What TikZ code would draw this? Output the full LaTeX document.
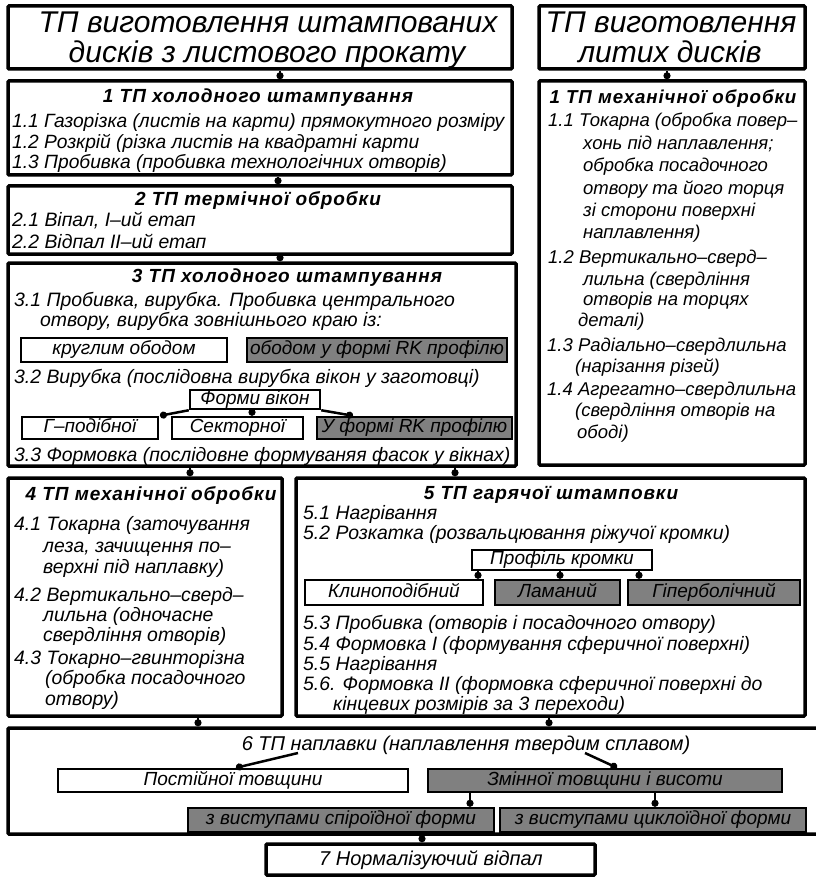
\documentclass[tikz,border=0pt]{standalone}
\usepackage{fontspec}
\setmainfont{Liberation Sans}
\newfontfamily\hdfont{Liberation Sans}[LetterSpace=5]
\usetikzlibrary{arrows.meta}
\definecolor{gfill}{RGB}{128,128,128}
\newcommand\tx{\fontsize{19.4}{21}\selectfont\itshape}
\newcommand\rtx{\fontsize{18.5}{21}\selectfont\itshape}
\newcommand\btx{\fontsize{19}{21}\selectfont\itshape}
\newcommand\hx{\hdfont\fontsize{19}{21}\selectfont\bfseries\itshape}
\newcommand\ttx{\fontsize{30}{30}\selectfont\itshape}
\newcommand\bigtx{\fontsize{20}{22}\selectfont\itshape}
\begin{document}
\begin{tikzpicture}[x=1pt,y=-1pt,
  box/.style={draw, line width=3.5pt, inner sep=0pt, rounded corners=1pt},
  ibox/.style={draw, line width=2.5pt, inner sep=0pt, font=\btx, text height=13.5pt, text depth=4pt},
  gbox/.style={ibox, fill=gfill},
  conn/.style={line width=2.5pt, -{Circle[length=7pt,width=7pt]}},
  tl/.style={anchor=base west, inner sep=0pt, font=\tx},
  rl/.style={tl, font=\rtx},
  hd/.style={anchor=base, inner sep=0pt, font=\hx},
  tt/.style={anchor=base, inner sep=0pt, font=\ttx},
]
\fill[white] (0,0) rectangle (815,877);
\useasboundingbox (0,0) rectangle (815,877);

% ---------- main boxes ----------
\node[box, minimum width=504pt, minimum height=63pt] (A) at (260,37.5) {};
\node[box, minimum width=266pt, minimum height=63pt] (B) at (672,37.5) {};
\node[box, minimum width=504pt, minimum height=94pt] (L1) at (260,128) {};
\node[box, minimum width=504pt, minimum height=68pt] (L2) at (260,220) {};
\node[box, minimum width=508pt, minimum height=203pt] (L3) at (262,364.5) {};
\node[box, minimum width=266pt, minimum height=384pt] (R1) at (672,273) {};
\node[box, minimum width=274pt, minimum height=238pt] (L4) at (145,597) {};
\node[box, minimum width=509pt, minimum height=238pt] (L5) at (550.5,597) {};
\node[box, minimum width=816pt, minimum height=106pt] (L6) at (416,781) {};
\node[box, minimum width=329pt, minimum height=31pt] (L7) at (430.5,859.5) {};

% ---------- titles ----------
\node[tt] (ta1) at (268,33) {ТП виготовлення штампованих};
\node[tt] (ta2) at (267,63) {дисків з листового прокату};
\node[tt] (tb1) at (671,33) {ТП виготовлення};
\node[tt] (tb2) at (670,63) {литих дисків};

% ---------- box 1 ----------
\node[hd] (h1) at (258,103) {1 ТП холодного штампування};
\node[tl, font=\fontsize{19.2}{21}\selectfont\itshape] (s11) at (12,128) {1.1 Газорізка (листів на карти) прямокутного розміру};
\node[tl, font=\fontsize{19.2}{21}\selectfont\itshape] (s12) at (12,149) {1.2 Розкрій (різка листів на квадратні карти};
\node[tl, font=\fontsize{19.2}{21}\selectfont\itshape] (s13) at (12,169) {1.3 Пробивка (пробивка технологічних отворів)};

% ---------- box 2 ----------
\node[hd] (h2) at (258,206) {2 ТП термічної обробки};
\node[tl] (s21) at (12,226) {2.1 Віпал, I–ий етап};
\node[tl] (s22) at (12,248) {2.2 Відпал II–ий етап};

% ---------- box 3 ----------
\node[hd] (h3) at (287,282) {3 ТП холодного штампування};
\node[tl] (s31) at (14,306) {3.1 Пробивка, вирубка. Пробивка центрального};
\node[tl] (s31b) at (40,326) {отвору, вирубка зовнішнього краю із:};
\node[ibox, minimum width=206pt, minimum height=24pt] (kr) at (124,350) {круглим ободом};
\node[gbox, minimum width=260pt, minimum height=24pt] (rk) at (377,350) {ободом у формі RK профілю};
\node[tl] (s32) at (14,383) {3.2 Вирубка (послідовна вирубка вікон у заготовці)};
\node[ibox, minimum width=130pt, minimum height=19pt] (fv) at (255,399.5) {Форми вікон};
\node[ibox, minimum width=136pt, minimum height=22pt] (gp) at (90,428) {Г–подібної};
\node[ibox, minimum width=131pt, minimum height=22pt] (sk) at (237.5,428) {Секторної};
\node[gbox, minimum width=195pt, minimum height=22pt] (uf) at (414.5,428) {У формі RK профілю};
\node[tl] (s33) at (14,461) {3.3 Формовка (послідовне формуваняя фасок у вікнах)};
\coordinate (x160) at (160,0);
\coordinate (x252) at (252,0);
\coordinate (x353) at (353,0);
\draw[conn] (fv.south west) -- (gp.north -| x160);
\draw[conn] (fv.south -| x252) -- (sk.north -| x252);
\draw[conn] (fv.south east) -- (uf.north -| x353);

% ---------- right box ----------
\node[hd, font=\hdfont\fontsize{18.7}{21}\selectfont\bfseries\itshape] (hr) at (673,104) {1 ТП механічної обробки};
\node[rl] (r1) at (548,127) {1.1 Токарна (обробка повер–};
\node[rl] (r2) at (583,150) {хонь під наплавлення;};
\node[rl] (r3) at (583,172) {обробка посадочного};
\node[rl] (r4) at (583,195) {отвору та його торця};
\node[rl] (r5) at (583,217) {зі сторони поверхні};
\node[rl] (r6) at (583,238) {наплавлення)};
\node[rl] (r7) at (548,263) {1.2 Вертикально–сверд–};
\node[rl] (r8) at (583,285) {лильна (свердління};
\node[rl] (r9) at (583,305) {отворів на торцях};
\node[rl] (r10) at (578,326) {деталі)};
\node[rl] (r11) at (547,351) {1.3 Радіально–свердлильна};
\node[rl] (r12) at (575,372) {(нарізання різей)};
\node[rl] (r13) at (547,395) {1.4 Агрегатно–свердлильна};
\node[rl] (r14) at (575,416) {(свердління отворів на};
\node[rl] (r15) at (577,438) {ободі)};

% ---------- box 4 ----------
\node[hd] (h4) at (151,500) {4 ТП механічної обробки};
\node[tl] (s41) at (14,530) {4.1 Токарна (заточування};
\node[tl] (s41b) at (43,552) {леза, зачищення по–};
\node[tl] (s41c) at (43,573) {верхні під наплавку)};
\node[tl] (s42) at (14,601) {4.2 Вертикально–сверд–};
\node[tl] (s42b) at (43,621) {лильна (одночасне};
\node[tl] (s42c) at (43,641) {свердління отворів)};
\node[tl] (s43) at (14,664) {4.3 Токарно–гвинторізна};
\node[tl] (s43b) at (45,684) {(обробка посадочного};
\node[tl] (s43c) at (45,705) {отвору)};

% ---------- box 5 ----------
\node[hd] (h5) at (551,499) {5 ТП гарячої штамповки};
\node[tl] (s51) at (303,519) {5.1 Нагрівання};
\node[tl] (s52) at (303,539) {5.2 Розкатка (розвальцювання ріжучої кромки)};
\node[ibox, minimum width=180pt, minimum height=20pt] (pk) at (562,560) {Профіль кромки};
\node[ibox, minimum width=178pt, minimum height=25pt] (kl) at (394,592.5) {Клиноподібний};
\node[gbox, minimum width=125pt, minimum height=25pt] (lm) at (557.5,592.5) {Ламаний};
\node[gbox, minimum width=172pt, minimum height=25pt] (gb) at (714,592.5) {Гіперболічний};
\coordinate (x478) at (478,0);
\coordinate (x560) at (560,0);
\coordinate (x639) at (639,0);
\draw[conn] (pk.south -| x478) -- (kl.north -| x478);
\draw[conn] (pk.south -| x560) -- (lm.north -| x560);
\draw[conn] (pk.south -| x639) -- (gb.north -| x639);
\node[tl] (s53) at (303,629) {5.3 Пробивка (отворів і посадочного отвору)};
\node[tl] (s54) at (303,650) {5.4 Формовка I (формування сферичної поверхні)};
\node[tl] (s55) at (303,670) {5.5 Нагрівання};
\node[tl] (s56) at (303,690) {5.6. Формовка II (формовка сферичної поверхні до};
\node[tl] (s56b) at (333,710) {кінцевих розмірів за 3 переходи)};

% ---------- box 6 ----------
\node[anchor=base, inner sep=0pt, font=\bigtx] (h6) at (466,750) {6 ТП наплавки (наплавлення твердим сплавом)};
\node[ibox, minimum width=350pt, minimum height=23pt] (pt) at (233,780.5) {Постійної товщини};
\node[gbox, minimum width=354pt, minimum height=23pt] (zm) at (605,780.5) {Змінної товщини і висоти};
\node[gbox, minimum width=306pt, minimum height=24pt] (sp) at (341,820) {з виступами спіроїдної форми};
\node[gbox, minimum width=306pt, minimum height=24pt] (cy) at (653,820) {з виступами циклоїдної форми};
\coordinate (c6l) at (298,753);
\coordinate (c6r) at (585,753);
\coordinate (x236) at (236,0);
\coordinate (x617) at (617,0);
\coordinate (x470) at (470,0);
\coordinate (x655) at (655,0);
\draw[conn] (c6l) -- (pt.north -| x236);
\draw[conn] (c6r) -- (zm.north -| x617);
\draw[conn] (zm.south -| x470) -- (sp.north -| x470);
\draw[conn] (zm.south -| x655) -- (cy.north -| x655);

% ---------- box 7 ----------
\node[anchor=center, inner sep=0pt, font=\bigtx] (t7) at (431,860) {7 Нормалізуючий відпал};

% ---------- connectors between main boxes ----------
\coordinate (x280) at (280,0);
\coordinate (x278) at (278,0);
\coordinate (x667) at (667,0);
\coordinate (x190) at (190,0);
\coordinate (x455) at (455,0);
\coordinate (x198) at (198,0);
\coordinate (x549) at (549,0);
\coordinate (x422) at (422,0);
\draw[conn] (A.south -| x280) -- (L1.north -| x280);
\draw[conn] (L1.south -| x278) -- (L2.north -| x278);
\draw[conn] (L2.south -| x280) -- (L3.north -| x280);
\draw[conn] (B.south -| x667) -- (R1.north -| x667);
\draw[conn] (L3.south -| x190) -- (L4.north -| x190);
\draw[conn] (L3.south -| x455) -- (L5.north -| x455);
\draw[conn] (L4.south -| x198) -- (L6.north -| x198);
\draw[conn] (L5.south -| x549) -- (L6.north -| x549);
\draw[conn] (L6.south -| x422) -- (L7.north -| x422);
\end{tikzpicture}
\end{document}
